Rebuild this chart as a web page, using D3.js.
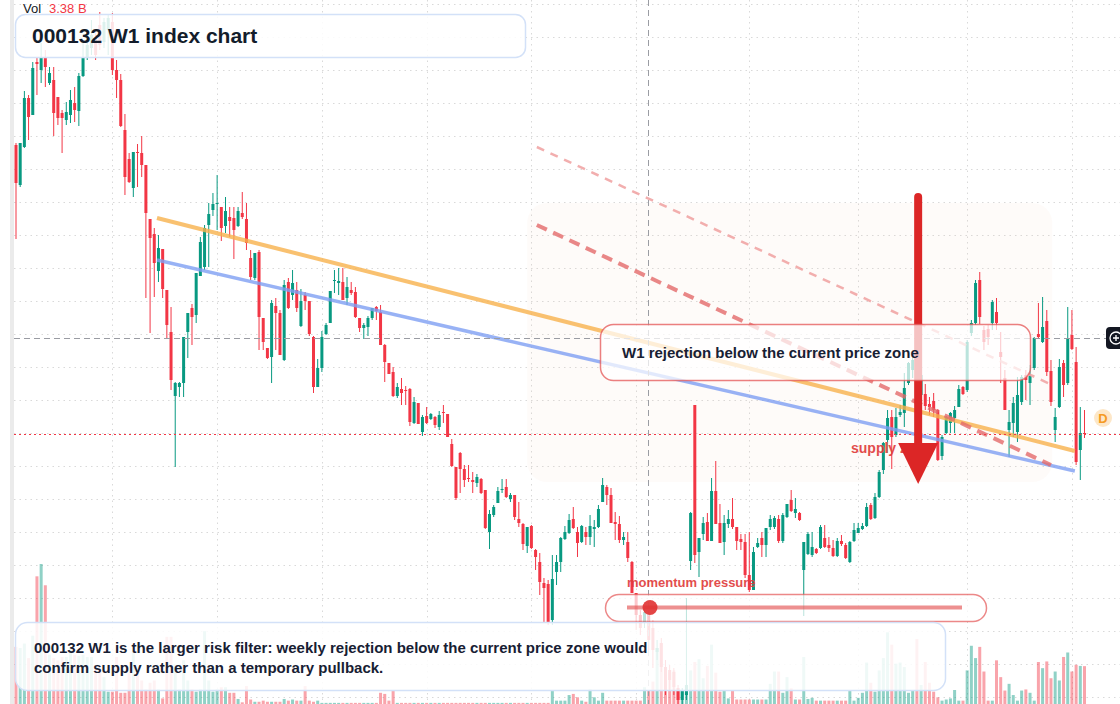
<!DOCTYPE html>
<html>
<head>
<meta charset="utf-8">
<script src="https://cdn.jsdelivr.net/npm/d3@7"></script>
<style>
  html, body { margin: 0; padding: 0; background: #fff; overflow: hidden; }
  svg { display: block; font-family: "Liberation Sans", Arial, sans-serif; }
</style>
</head>
<body>
<div id="chart"></div>
<script>
// weekly candles, 000132 (price units are arbitrary index points)
var opens = [855,815,853,902,885,938,930,942,917,920, 903,887,880,885,897,889,924,943,952,962,
  975,958,970,978,930,920,870,841,812,848, 847,835,781,766,729,751,710,668,604,613,
  617,668,692,685,724,733,775,790,796,793, 774,783,782,774,787,781,742,722,748,682,
  652,643,694,687,640,718,705,710,674,705, 699,663,613,632,666,677,719,717,718,702,
  710,708,682,672,673,682,693,688,655,637, 628,604,611,610,611,577,597,568,584,581,
  583,573,588,586,556,533,547,531,522,520, 517,521,510,468,485,497,510,513,501,505,
  481,476,454,474,450,438,417,416,380,428, 438,461,467,481,468,458,468,463,471,473,
  498,513,505,478,476,460,458,438,407,385, 378,385,372,348,357,333,330,328,312,300,
  305,439,595,448,466,478,459,509,477,458, 476,481,473,461,458,425,410,453,462,455,
  473,473,481,459,483,500,487,487,430,446, 445,451,452,462,455,452,444,459,455,438,
  459,467,471,474,495,482,503,530,560,583, 565,585,587,617,630,635,605,606,596,599,
  590,544,567,577,582,593,613,610,667,677, 720,670,671,677,688,648,622,570,577,568,
  598,625,617,632,666,658,679,629,570,593, 637,617,665,638,550,567];
var highs = [857,857,909,905,938,942,957,950,933,933, 903,890,898,910,913,927,958,965,980,970,
  988,982,985,987,940,926,886,847,848,856, 864,835,781,772,765,751,710,693,618,618,
  663,687,696,727,763,775,797,807,825,793, 803,793,793,793,808,797,750,747,750,682,
  652,700,702,690,720,722,730,718,711,708, 699,664,641,669,677,709,730,732,732,723,
  718,713,682,677,684,692,694,695,656,637, 633,617,622,614,612,603,597,585,593,587,
  584,589,595,586,561,533,548,535,535,528, 526,522,510,490,495,513,521,521,507,505,
  498,477,473,475,451,447,422,420,445,445, 463,474,486,493,473,475,473,485,480,495,
  522,515,512,488,484,468,468,439,407,390, 392,390,380,360,362,340,335,332,315,312,
  402,488,595,462,483,487,522,539,496,485, 490,502,473,466,466,468,453,462,468,472,
  485,484,485,487,496,510,502,488,458,468, 468,452,475,475,463,460,462,465,457,459,
  477,477,477,497,497,507,530,558,590,590, 592,595,627,638,645,642,630,616,603,607,
  591,565,584,588,594,615,614,660,680,720, 728,674,675,700,702,668,630,590,603,623,
  625,630,635,663,697,703,690,640,592,641, 640,693,690,653,593,590];
var lows = [761,813,852,860,885,905,917,913,915,864, 875,847,875,877,878,874,923,940,945,940,
  950,952,945,925,902,873,805,817,803,813, 823,702,667,703,718,702,662,610,533,603,
  603,642,655,677,724,730,733,784,770,759, 767,763,741,773,781,750,720,720,650,650,
  641,617,650,645,639,691,700,688,673,690, 664,607,613,628,665,677,707,705,700,695,
  705,682,668,661,664,680,680,655,618,626, 603,602,595,595,574,576,576,564,576,580,
  572,570,577,563,533,500,507,513,518,507, 513,506,471,451,483,497,507,502,498,480,
  473,450,447,451,430,405,378,375,375,415, 428,460,466,471,443,457,455,455,453,472,
  498,495,477,460,457,455,438,407,370,365, 372,350,332,340,328,305,310,305,296,296,
  300,430,437,423,460,459,459,476,457,445, 472,471,450,450,422,408,410,452,443,443,
  470,471,457,457,482,488,482,479,384,445, 443,446,451,452,448,443,443,454,441,437,
  458,467,470,473,480,481,502,526,547,531, 563,583,573,615,622,610,600,590,585,583,
  539,540,566,567,567,593,605,608,664,675, 676,650,655,670,670,617,590,543,563,558,
  595,600,595,630,662,657,624,594,558,592, 603,615,650,535,520,562];
var closes = [817,857,902,883,932,936,942,933,927,887, 882,882,888,900,890,924,943,955,965,945,
  955,978,982,930,920,874,823,818,848,847, 835,787,762,737,752,711,675,620,617,617,
  663,687,683,727,758,772,786,796,797,772, 789,779,770,789,783,757,723,747,683,658,
  642,697,687,645,715,692,717,692,699,699, 666,613,632,663,675,709,720,719,700,713,
  707,683,672,675,682,692,689,655,638,626, 604,613,607,609,578,598,576,583,577,586,
  575,585,587,563,534,502,531,520,521,518, 523,507,472,486,493,509,511,503,505,483,
  477,456,473,452,443,418,412,378,421,438, 462,468,480,472,457,474,463,474,473,491,
  515,505,477,476,460,463,442,407,385,372, 388,360,350,352,333,310,320,313,300,310,
  315,487,445,462,477,459,509,476,457,477, 481,473,459,458,425,410,448,457,455,472,
  481,482,459,485,496,489,491,480,458,466, 453,447,473,453,452,444,459,456,442,458,
  470,472,474,493,481,503,528,557,582,563, 583,588,612,637,640,620,625,594,593,590,
  540,563,583,587,590,611,606,658,677,717, 683,658,663,698,677,643,590,578,597,605,
  623,620,624,662,663,673,628,598,583,633, 615,662,651,538,567,566];
// weekly volume, billions
var volumes = [5.1,5.0,5.4,4.1,6.1,11.4,12.5,10.6,4.4,4.1, 3.9,4.2,4.2,5.1,4.4,4.3,4.4,4.2,4.2,3.3,
  3.0,2.4,1.1,1.1,4.2,1.0,1.0,2.8,4.8,2.8, 2.1,1.3,1.9,2.1,1.3,0.5,6.0,6.0,3.5,1.3,
  3.9,2.1,1.3,1.1,1.3,6.5,2.1,1.1,1.3,1.5, 1.5,1.0,1.0,0.45,0.15,1.6,0.4,0.2,0.2,0.3,
  0.2,0.2,0.2,0.2,0.45,0.3,0.4,0.3,0.3,1.6, 0.3,0.2,0.3,0.1,0.1,0.1,0.1,0.1,0.1,0.1,
  0.1,0.1,0.1,0.1,0.1,0.1,0.1,1.0,0.9,0.3, 1.25,0.1,0.1,0.1,0.1,0.1,0.1,0.1,0.1,0.1,
  0.1,0.1,0.1,0.1,0.1,0.1,0.1,0.1,0.1,0.1, 0.1,0.1,0.1,0.1,0.1,0.1,0.1,0.1,0.1,0.1,
  0.1,0.1,0.1,0.1,0.1,0.1,0.1,0.1,1.25,0.3, 0.3,0.3,0.8,0.9,0.6,0.3,0.2,1.3,0.6,0.3,
  1.0,0.3,0.3,0.3,0.3,0.3,0.3,0.3,0.3,0.3, 1.5,1.2,2.0,5.0,5.4,3.3,2.8,3.0,1.25,1.25,
  1.0,3.0,3.75,4.0,2.3,3.4,5.3,2.8,1.1,1.25, 0.5,1.25,0.4,0.4,0.4,0.4,0.4,0.4,0.4,0.4,
  1.8,2.9,2.9,1.0,2.4,1.4,0.4,0.4,4.2,0.45, 0.55,0.3,0.3,0.3,0.3,0.3,0.3,0.3,0.3,1.25,
  0.3,0.55,1.0,3.7,1.9,1.1,3.0,4.1,6.4,5.3, 3.6,3.7,3.3,1.0,1.2,5.8,1.7,3.75,1.9,1.1,
  0.6,0.3,0.4,0.5,1.25,0.3,0.3,3.0,5.2,4.1, 5.1,2.9,0.3,0.3,3.9,2.4,1.2,1.8,0.8,0.3,
  1.2,1.3,1.0,0.3,3.75,3.2,3.8,2.3,2.9,2.1, 4.2,4.6,2.9,3.5,3.4,3.38];

// grid: price levels and week indices of the time gridlines
var priceGrid = d3.range(996, 290, -33);
var timeGrid = [23, 48, 73, 98, 123, 148, 175, 201, 227, 252];

// drawings (week index, price)
var trendOrange = [[33.65, 782], [252.7, 549]];
var trendBlue = [[33.65, 740], [252.7, 529]];
var channelUpper = [[124.3, 853], [247.3, 615]];
var channelLower = [[124.3, 775], [247.0, 535]];
var zone = { i0: 122, i1: 247.3, top: 797, bottom: 518 };
var arrow = { i: 215.3, from: 803, to: 516 };
var crosshair = { i: 150.8, price: 662 };

var title = "000132 W1 index chart";
var note = ["000132 W1 is the larger risk filter: weekly rejection below the current price zone would",
            "confirm supply rather than a temporary pullback."];
var callout = "W1 rejection below the current price zone";

var width = 1120, height = 704;
var up = "#089981", down = "#f23645";

var svg = d3.select("#chart").append("svg")
  .attr("width", width)
  .attr("height", height);

var x = d3.scaleLinear().domain([0, opens.length - 1]).range([16, 1084.5]);
var y = d3.scaleLinear().domain([296, 1000]).range([704, 0]);
var vy = d3.scaleLinear().domain([0, 20]).range([704, 480]);

// left strip
svg.append("rect").attr("x", 10).attr("y", 0).attr("width", 4).attr("height", height).attr("fill", "#ebebeb");

// grid
svg.append("g").selectAll("line").data(priceGrid).enter().append("line")
  .attr("x1", 14).attr("x2", width)
  .attr("y1", function(d) { return Math.round(y(d)) + 0.5; })
  .attr("y2", function(d) { return Math.round(y(d)) + 0.5; })
  .attr("stroke", "#d9d9d9").attr("stroke-dasharray", "1.5,4");
svg.append("g").selectAll("line").data(timeGrid).enter().append("line")
  .attr("x1", function(d) { return Math.round(x(d)) + 0.5; })
  .attr("x2", function(d) { return Math.round(x(d)) + 0.5; })
  .attr("y1", 0).attr("y2", height)
  .attr("stroke", "#d9d9d9").attr("stroke-dasharray", "1.5,4");

// supply zone shading
svg.append("rect")
  .attr("x", x(zone.i0)).attr("y", y(zone.top))
  .attr("width", x(zone.i1) - x(zone.i0)).attr("height", y(zone.bottom) - y(zone.top))
  .attr("rx", 20)
  .attr("fill", "rgba(240,215,190,0.09)");

var idx = d3.range(opens.length);

// volume
svg.append("g").selectAll("rect").data(idx).enter().append("rect")
  .attr("x", function(i) { return x(i) - 1.5; })
  .attr("y", function(i) { return vy(volumes[i]); })
  .attr("width", 3)
  .attr("height", function(i) { return vy(0) - vy(volumes[i]); })
  .attr("fill", function(i) { return closes[i] >= opens[i] ? up : down; })
  .attr("opacity", 0.45);

// candles
var candles = svg.append("g").selectAll("g").data(idx).enter().append("g");
candles.append("line")
  .attr("x1", function(i) { return x(i); })
  .attr("x2", function(i) { return x(i); })
  .attr("y1", function(i) { return y(highs[i]); })
  .attr("y2", function(i) { return y(lows[i]); })
  .attr("stroke", function(i) { return closes[i] >= opens[i] ? up : down; })
  .attr("stroke-width", 1);
candles.append("rect")
  .attr("x", function(i) { return x(i) - 1.5; })
  .attr("y", function(i) { return y(Math.max(opens[i], closes[i])); })
  .attr("width", 3)
  .attr("height", function(i) { return Math.max(1, Math.abs(y(opens[i]) - y(closes[i]))); })
  .attr("fill", function(i) { return closes[i] >= opens[i] ? up : down; });

// trend lines
var line = d3.line().x(function(d) { return x(d[0]); }).y(function(d) { return y(d[1]); });
svg.append("path").attr("d", line(trendOrange)).attr("stroke", "#f7b24c").attr("stroke-width", 4)
  .attr("opacity", 0.8).attr("fill", "none");
svg.append("path").attr("d", line(trendBlue)).attr("stroke", "#7e9ff2").attr("stroke-width", 3.5)
  .attr("opacity", 0.8).attr("fill", "none");
svg.append("path").attr("d", line(channelUpper)).attr("stroke", "#f0a0a0").attr("stroke-width", 2.5)
  .attr("stroke-dasharray", "8,7").attr("opacity", 0.85).attr("fill", "none");
svg.append("path").attr("d", line(channelLower)).attr("stroke", "#e46a6a").attr("stroke-width", 4)
  .attr("stroke-dasharray", "11,7").attr("opacity", 0.8).attr("fill", "none");

// current price line
var last = closes[closes.length - 1];
svg.append("line")
  .attr("x1", 14).attr("x2", width)
  .attr("y1", Math.round(y(last)) + 0.5).attr("y2", Math.round(y(last)) + 0.5)
  .attr("stroke", down).attr("stroke-dasharray", "2,3");

// crosshair
svg.append("line")
  .attr("x1", Math.round(x(crosshair.i)) + 0.5).attr("x2", Math.round(x(crosshair.i)) + 0.5)
  .attr("y1", 0).attr("y2", height)
  .attr("stroke", "#9a9ca3").attr("stroke-dasharray", "6,4");
svg.append("line")
  .attr("x1", 14).attr("x2", 1108)
  .attr("y1", Math.round(y(crosshair.price)) + 0.5).attr("y2", Math.round(y(crosshair.price)) + 0.5)
  .attr("stroke", "#9a9ca3").attr("stroke-dasharray", "6,4");

// supply zone label + arrow
svg.append("text").attr("x", 851).attr("y", 453)
  .attr("font-size", 14).attr("font-weight", "bold").attr("fill", "#e03a3a").attr("opacity", 0.9)
  .text("supply zone");
var ax = x(arrow.i);
svg.append("line")
  .attr("x1", ax).attr("x2", ax)
  .attr("y1", y(arrow.from)).attr("y2", y(arrow.to) - 35)
  .attr("stroke", "#dc2626").attr("stroke-width", 8).attr("stroke-linecap", "round");
svg.append("path")
  .attr("d", "M" + (ax - 20) + "," + (y(arrow.to) - 41) + "L" + (ax + 20) + "," + (y(arrow.to) - 41) +
    "L" + ax + "," + y(arrow.to) + "Z")
  .attr("fill", "#dc2626");

// callout box
svg.append("rect").attr("x", 600.5).attr("y", 324.5).attr("width", 430).attr("height", 56).attr("rx", 13)
  .attr("fill", "rgba(255,255,255,0.72)").attr("stroke", "rgba(228,85,85,0.75)").attr("stroke-width", 1.5);
svg.append("text").attr("x", 622).attr("y", 358)
  .attr("font-size", 15).attr("font-weight", "bold").attr("fill", "#172033")
  .text(callout);

// momentum pill
svg.append("text").attr("x", 627).attr("y", 587)
  .attr("font-size", 13).attr("font-weight", "bold").attr("fill", "#e03a3a").attr("opacity", 0.9)
  .text("momentum pressure");
svg.append("rect").attr("x", 605.5).attr("y", 594.5).attr("width", 381).attr("height", 27).attr("rx", 13.5)
  .attr("fill", "rgba(255,255,255,0.72)").attr("stroke", "rgba(228,85,85,0.7)").attr("stroke-width", 1.5);
svg.append("line").attr("x1", 627).attr("x2", 962).attr("y1", 607.5).attr("y2", 607.5)
  .attr("stroke", "rgba(225,70,70,0.6)").attr("stroke-width", 4);
svg.append("circle").attr("cx", 650).attr("cy", 607.5).attr("r", 7.5).attr("fill", "#e03131").attr("opacity", 0.9);

// note box
svg.append("rect").attr("x", 15.5).attr("y", 622.5).attr("width", 930).attr("height", 68).attr("rx", 12)
  .attr("fill", "rgba(255,255,255,0.86)").attr("stroke", "#d3e1f8").attr("stroke-width", 1.5);
svg.append("g").selectAll("text").data(note).enter().append("text")
  .attr("x", 34).attr("y", function(d, i) { return 653 + i * 20; })
  .attr("font-size", 15).attr("font-weight", "bold").attr("fill", "#172033")
  .text(function(d) { return d; });

// title box
svg.append("rect").attr("x", 15.5).attr("y", 14.5).attr("width", 510).attr("height", 43).attr("rx", 10)
  .attr("fill", "rgba(255,255,255,0.86)").attr("stroke", "#d3e1f8").attr("stroke-width", 1.5);
svg.append("text").attr("x", 32).attr("y", 43)
  .attr("font-size", 21).attr("font-weight", "bold").attr("fill", "#131c2b")
  .text(title);

// volume legend
svg.append("text").attr("x", 23).attr("y", 13).attr("font-size", 13).attr("fill", "#131722").text("Vol");
svg.append("text").attr("x", 49).attr("y", 13).attr("font-size", 13).attr("fill", down)
  .text(d3.format(".2f")(volumes[volumes.length - 1]) + " B");

// right-side markers
svg.append("circle").attr("cx", 1103).attr("cy", 418).attr("r", 9).attr("fill", "#fde7c8");
svg.append("text").attr("x", 1103).attr("y", 423).attr("text-anchor", "middle")
  .attr("font-size", 13).attr("font-weight", "bold").attr("fill", "#f59a23").text("D");
svg.append("rect").attr("x", 1106).attr("y", 327).attr("width", 22).attr("height", 22).attr("rx", 4).attr("fill", "#131722");
svg.append("circle").attr("cx", 1116).attr("cy", 338).attr("r", 6).attr("fill", "none").attr("stroke", "#fff").attr("stroke-width", 1.3);
svg.append("path").attr("d", "M1113,338H1119M1116,335V341").attr("stroke", "#fff").attr("stroke-width", 1.3);
</script>
</body>
</html>
